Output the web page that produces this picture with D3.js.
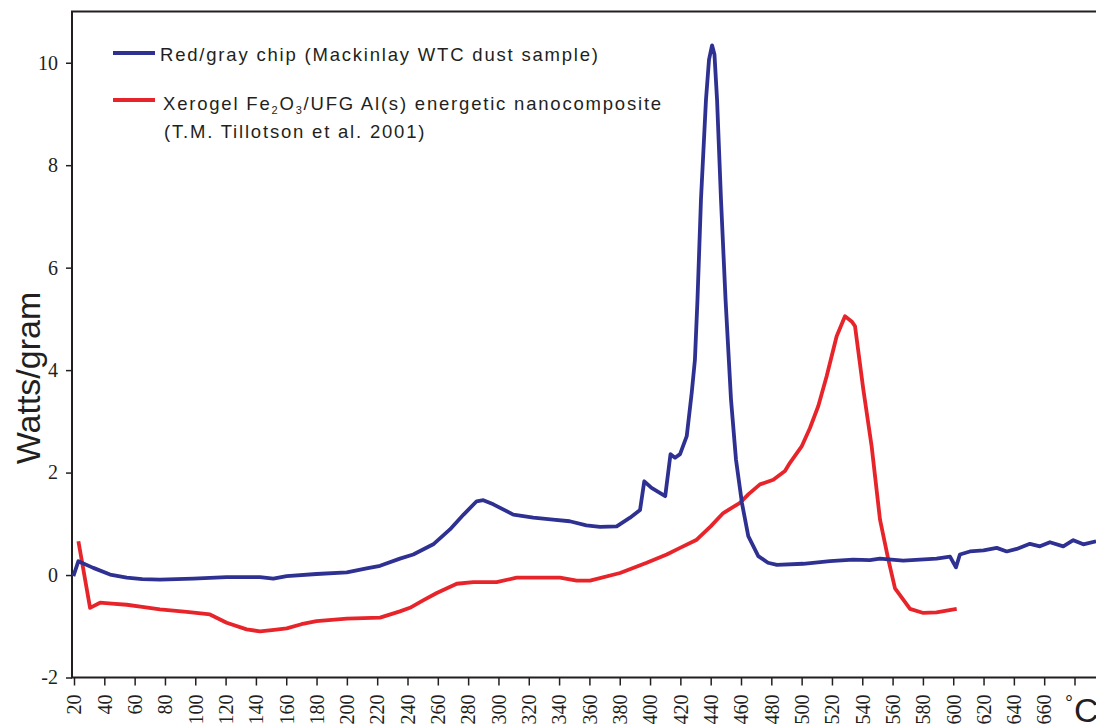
<!DOCTYPE html>
<html>
<head>
<meta charset="utf-8">
<script src="https://cdn.jsdelivr.net/npm/d3@7"></script>
<style>
  body { margin: 0; background: #fff; }
  svg { display: block; }
  .tick text { font-family: "Liberation Serif", "Times New Roman", serif; font-size: 20px; fill: #231f20; }
  .tick line { stroke: #231f20; stroke-width: 1.5; }
  .legend { font-family: "Liberation Sans", Arial, sans-serif; font-size: 18.5px; fill: #231f20; letter-spacing: 1.8px; }
</style>
</head>
<body>
<script>
// temperature (deg C) vs heat flow (W/g)
var chipTemp = [19.6, 22.9, 32.7, 43.8, 54.8, 65, 76.7, 98.7, 120.7, 142.7, 151.5, 160.3, 180, 200, 213, 221.9, 235, 243.8, 257, 268, 277, 285.6, 290, 296.6, 309.8, 323, 336, 347, 358, 367, 378, 386.8, 393.4, 396.2, 401, 410, 413.5, 416.5, 419.8, 424.2, 427.5, 429.6, 431.3, 433.6, 436.9, 438.9, 440.9, 442.5, 444.2, 446.8, 449.8, 453.4, 456.7, 460.6, 464.8, 471.4, 477.8, 483.7, 501, 518.7, 534, 545, 551.7, 567, 578, 589, 597.9, 601.8, 604.4, 611, 620, 628.7, 635.3, 641.9, 650.6, 657.2, 663.8, 672.6, 679.2, 685.8, 694.2];
var chipWatts = [-0.02, 0.27, 0.14, 0.01, -0.05, -0.08, -0.09, -0.07, -0.04, -0.04, -0.07, -0.02, 0.02, 0.05, 0.13, 0.18, 0.32, 0.40, 0.6, 0.89, 1.18, 1.44, 1.46, 1.38, 1.18, 1.12, 1.08, 1.05, 0.97, 0.94, 0.95, 1.12, 1.27, 1.83, 1.70, 1.54, 2.36, 2.29, 2.36, 2.71, 3.56, 4.2, 5.38, 7.33, 9.28, 10.06, 10.34, 10.16, 9.28, 7.33, 5.38, 3.43, 2.25, 1.41, 0.76, 0.37, 0.24, 0.2, 0.22, 0.27, 0.3, 0.29, 0.32, 0.28, 0.30, 0.32, 0.36, 0.15, 0.40, 0.46, 0.48, 0.53, 0.46, 0.51, 0.61, 0.56, 0.64, 0.56, 0.68, 0.60, 0.66];

var xeroTemp = [22.9, 30.6, 37.2, 45, 54.8, 65, 76.7, 94.4, 109.7, 120.7, 133.9, 142.7, 152, 160.3, 170, 180, 200, 221.9, 235, 241.6, 250, 259.3, 272.5, 283.4, 298.8, 312, 340.6, 351.6, 360.4, 380.2, 397.8, 411, 419.8, 430.8, 440, 448.3, 459.3, 465, 472.5, 481.3, 489, 492.3, 500, 505.5, 511, 516.5, 523.1, 528.6, 533, 535.2, 540.7, 546.2, 551.7, 557.2, 561.6, 571.5, 580.3, 589, 602.3];
var xeroWatts = [0.66, -0.64, -0.54, -0.56, -0.58, -0.62, -0.67, -0.72, -0.77, -0.93, -1.06, -1.10, -1.07, -1.04, -0.96, -0.90, -0.85, -0.83, -0.71, -0.64, -0.5, -0.35, -0.17, -0.14, -0.14, -0.05, -0.05, -0.11, -0.11, 0.04, 0.24, 0.40, 0.53, 0.69, 0.95, 1.21, 1.41, 1.58, 1.77, 1.86, 2.03, 2.19, 2.51, 2.87, 3.30, 3.88, 4.66, 5.05, 4.95, 4.86, 3.62, 2.51, 1.08, 0.30, -0.26, -0.66, -0.74, -0.73, -0.66];

var xTicks = d3.range(20, 700, 20);
var yTicks = [-2, 0, 2, 4, 6, 8, 10];

var width = 1096, height = 725;
var ink = "#231f20";
var blue = "#2e3192", red = "#e8242b";

var svg = d3.select("body").append("svg")
    .attr("width", width)
    .attr("height", height);

var x = d3.scaleLinear().domain([20, 680]).range([74, 1074.5]);
var y = d3.scaleLinear().domain([-2, 11]).range([677.5, 11.5]);

// x axis
var xAxis = svg.append("g")
    .attr("transform", "translate(0," + y(-2) + ")")
    .call(d3.axisBottom(x).tickValues(xTicks).tickSize(8)
      .tickFormat(function(d) { return d <= 660 ? d : ""; }));
xAxis.select(".domain").remove();
xAxis.selectAll("text")
    .attr("transform", "rotate(-90)")
    .attr("text-anchor", "end")
    .attr("x", -17)
    .attr("y", 0)
    .attr("dy", "0.34em");

// y axis
var yAxis = svg.append("g")
    .attr("transform", "translate(72,0)")
    .call(d3.axisLeft(y).tickValues(yTicks).tickSize(6).tickPadding(8)
      .tickFormat(function(d) { return String(d); }));
yAxis.select(".domain").remove();

// frame
svg.append("path")
    .attr("d", "M" + width + "," + y(11) + "H72V" + y(-2) + "H" + width)
    .attr("fill", "none")
    .attr("stroke", ink)
    .attr("stroke-width", 2);

// lines
var line = d3.line()
    .x(function(d) { return x(d[0]); })
    .y(function(d) { return y(d[1]); });

svg.append("path")
    .datum(d3.zip(xeroTemp, xeroWatts))
    .attr("fill", "none")
    .attr("stroke", red)
    .attr("stroke-width", 3.8)
    .attr("stroke-linejoin", "round")
    .attr("d", line);

svg.append("path")
    .datum(d3.zip(chipTemp, chipWatts))
    .attr("fill", "none")
    .attr("stroke", blue)
    .attr("stroke-width", 3.8)
    .attr("stroke-linejoin", "round")
    .attr("d", line);

// legend
svg.append("line")
    .attr("x1", 113).attr("x2", 155).attr("y1", 53).attr("y2", 53)
    .attr("stroke", blue).attr("stroke-width", 4);
svg.append("text")
    .attr("class", "legend")
    .attr("x", 160).attr("y", 61)
    .text("Red/gray chip (Mackinlay WTC dust sample)");

svg.append("line")
    .attr("x1", 113).attr("x2", 155).attr("y1", 100).attr("y2", 100)
    .attr("stroke", red).attr("stroke-width", 4);
var leg2 = svg.append("text")
    .attr("class", "legend")
    .attr("x", 163).attr("y", 110);
leg2.append("tspan").text("Xerogel Fe");
leg2.append("tspan").attr("dy", 4).style("font-size", "11px").text("2");
leg2.append("tspan").attr("dy", -4).text("O");
leg2.append("tspan").attr("dy", 4).style("font-size", "11px").text("3");
leg2.append("tspan").attr("dy", -4).text("/UFG Al(s) energetic nanocomposite");
svg.append("text")
    .attr("class", "legend")
    .attr("x", 164).attr("y", 138)
    .text("(T.M. Tillotson et al. 2001)");

// axis titles
svg.append("text")
    .attr("transform", "translate(40,378) rotate(-90)")
    .attr("text-anchor", "middle")
    .style("font-family", "'Liberation Sans', Arial, sans-serif")
    .style("font-size", "34px")
    .attr("fill", ink)
    .text("Watts/gram");

var unit = svg.append("text")
    .attr("x", 1065).attr("y", 722)
    .style("font-family", "'Liberation Sans', Arial, sans-serif")
    .attr("fill", ink);
unit.append("tspan").attr("dy", -12).style("font-size", "20px").text("°");
unit.append("tspan").attr("dy", 12).attr("dx", 1).style("font-size", "34px").text("C");
</script>
</body>
</html>
